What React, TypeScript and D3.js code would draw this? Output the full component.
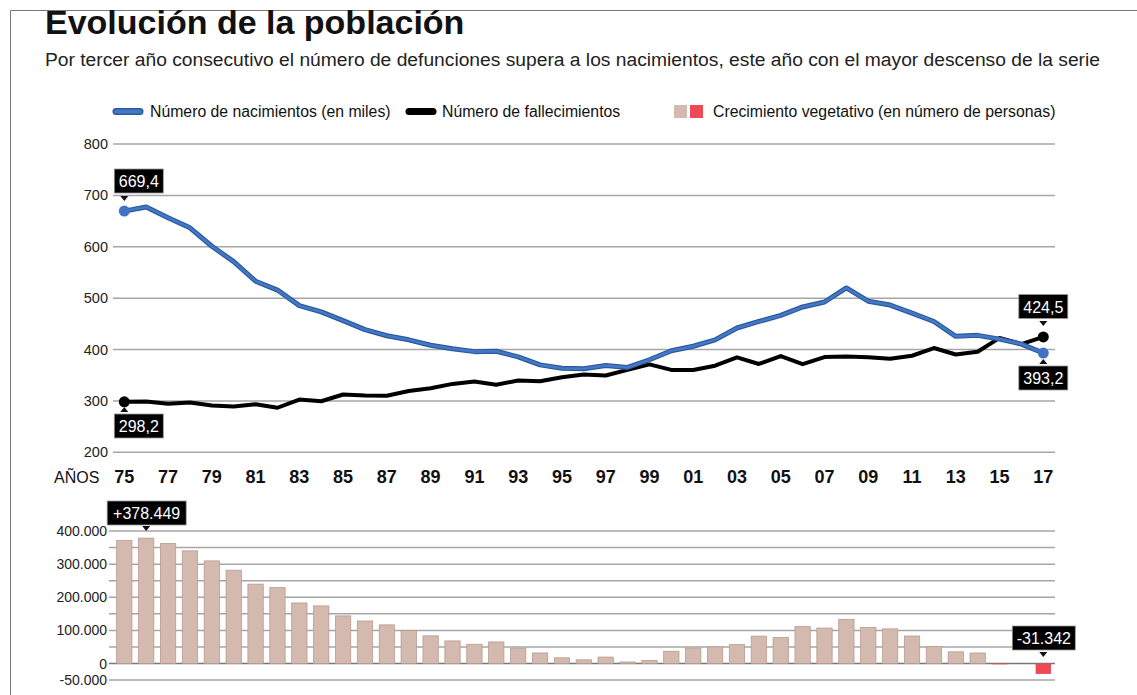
import * as d3 from "d3";

const years = d3.range(1975, 2018);

// Número de nacimientos (en miles)
const births = [
  669.4, 677.5, 656.4, 636.9, 601.0, 571.0, 533.0, 515.7, 485.4, 473.3,
  456.3, 438.8, 426.8, 418.9, 408.4, 401.4, 395.9, 396.7, 385.8, 370.1,
  363.5, 362.6, 369.0, 365.2, 380.1, 397.6, 406.4, 418.8, 441.9, 454.6,
  466.4, 482.9, 492.5, 519.8, 494.0, 486.6, 471.0, 454.6, 425.7, 427.6,
  420.3, 410.6, 393.2,
];

// Número de fallecimientos (en miles)
const deaths = [
  298.2, 299.0, 294.3, 296.8, 291.2, 289.3, 293.4, 286.7, 302.6, 299.4,
  312.5, 310.4, 310.1, 319.4, 324.8, 333.1, 337.7, 331.5, 339.7, 338.2,
  346.2, 351.4, 349.5, 360.5, 371.1, 360.4, 360.1, 368.6, 384.8, 371.9,
  387.4, 371.5, 385.4, 386.3, 384.9, 382.0, 387.9, 402.9, 390.4, 395.8,
  422.6, 410.6, 424.5,
];

// Crecimiento vegetativo (personas)
const growth = [
  371200, 378449, 362100, 340100, 309800, 281700, 239600, 229000, 182800, 173900,
  143800, 128400, 116700, 99500, 83600, 68300, 58200, 65200, 46100, 31900,
  17300, 11200, 19500, 4700, 9000, 37200, 46300, 50200, 57100, 82700,
  79000, 111400, 107100, 133500, 109100, 104600, 83100, 51700, 35300, 31800,
  -2300, -100, -31342,
];

const topTicks = [200, 300, 400, 500, 600, 700, 800];
const bottomGrid = d3.range(-50000, 400001, 50000);
const bottomLabels = [400000, 300000, 200000, 100000, 0, -50000];
const xLabelYears = years.filter((y) => (y - 1975) % 2 === 0);

const SANS = "'Liberation Sans', Arial, sans-serif";
const NARROW = "'Liberation Sans Narrow', 'Liberation Sans', Arial, sans-serif";

const fmtThousands = (v: number) =>
  d3.format(",")(v).replace(/,/g, ".").replace("−", "-");
const fmtDec = (v: number) => v.toFixed(1).replace(".", ",");

function Callout({ x, y, w, label }: { x: number; y: number; w: number; label: string }) {
  return (
    <g>
      <rect x={x} y={y} width={w} height={24} fill="#000" stroke="#999" strokeWidth={0.8} />
      <text x={x + w / 2} y={y + 18} textAnchor="middle" fill="#fff" fontSize={16} fontFamily={SANS}>
        {label}
      </text>
    </g>
  );
}

function Tri({ x, y, dir }: { x: number; y: number; dir: "down" | "up" }) {
  const p = dir === "down" ? `${x - 4},${y - 3} ${x + 4},${y - 3} ${x},${y + 2}` : `${x - 4},${y + 3} ${x + 4},${y + 3} ${x},${y - 2}`;
  return <polygon points={p} fill="#111" />;
}

export default function App() {
  const W = 1137;
  const H = 695;

  // top chart scales
  const x = d3.scaleLinear().domain([1975, 2017]).range([124.3, 1043.3]);
  const y = d3.scaleLinear().domain([200, 800]).range([452.3, 144]);
  const gridX0 = 113;
  const gridX1 = 1055;

  const line = d3
    .line<number>()
    .x((_, i) => x(years[i]))
    .y((d) => y(d));

  // bottom chart scales
  const step = x(1976) - x(1975);
  const xb = d3
    .scaleBand<number>()
    .domain(years)
    .range([x(1975) - step / 2, x(2017) + step / 2])
    .paddingInner(0.3)
    .paddingOuter(0.15);
  const yb = d3.scaleLinear().domain([-50000, 400000]).range([680.1, 531]);

  const last = years.length - 1;
  const bx = (yr: number) => (xb(yr) ?? 0) + xb.bandwidth() / 2;

  return (
    <svg width={W} height={H} style={{ position: "absolute", left: 0, top: 0, background: "#fff" }}>
      {/* frame */}
      <line x1={10.5} y1={10.5} x2={W} y2={10.5} stroke="#777" strokeWidth={1} />
      <line x1={10.5} y1={10.5} x2={10.5} y2={H} stroke="#777" strokeWidth={1} />

      {/* title */}
      <text x={45} y={34} fontSize={34} fontWeight="bold" fontFamily={SANS} fill="#111">
        Evolución de la población
      </text>
      <text x={45} y={66} fontSize={18} fontFamily={SANS} fill="#222" textLength={1055} lengthAdjust="spacingAndGlyphs">
        Por tercer año consecutivo el número de defunciones supera a los nacimientos, este año con el mayor descenso de la serie
      </text>

      {/* legend */}
      <line x1={116} y1={111.5} x2={140} y2={111.5} stroke="#2b5a9c" strokeWidth={7} strokeLinecap="round" />
      <line x1={116} y1={111.5} x2={140} y2={111.5} stroke="#4478c6" strokeWidth={4} strokeLinecap="round" />
      <text x={150} y={117} fontSize={15.8} fontFamily={SANS} fill="#111">
        Número de nacimientos (en miles)
      </text>
      <line x1={409} y1={111.5} x2={433} y2={111.5} stroke="#000" strokeWidth={7} strokeLinecap="round" />
      <text x={442} y={117} fontSize={15.8} fontFamily={SANS} fill="#111">
        Número de fallecimientos
      </text>
      <rect x={674} y={105} width={13} height={13} fill="#d4b9af" />
      <rect x={690} y={105} width={13} height={13} fill="#ee4a55" />
      <text x={713} y={117} fontSize={15.8} fontFamily={SANS} fill="#111">
        Crecimiento vegetativo (en número de personas)
      </text>

      {/* top chart grid */}
      {topTicks.map((t) => (
        <g key={t}>
          <line x1={gridX0} x2={gridX1} y1={y(t)} y2={y(t)} stroke="#a6a6a6" strokeWidth={1.5} />
          <text x={108} y={y(t) + 5} textAnchor="end" fontSize={14.5} fontFamily={SANS} fill="#222">
            {t}
          </text>
        </g>
      ))}

      {/* x labels */}
      <text x={54} y={483} fontSize={16} fontFamily={NARROW} fill="#111">
        AÑOS
      </text>
      {xLabelYears.map((yr) => (
        <text key={yr} x={x(yr)} y={483} textAnchor="middle" fontSize={18} fontWeight="bold" fontFamily={NARROW} fill="#111">
          {String(yr).slice(2)}
        </text>
      ))}

      {/* lines */}
      <path d={line(deaths) ?? ""} fill="none" stroke="#000" strokeWidth={4} strokeLinejoin="round" />
      <path d={line(births) ?? ""} fill="none" stroke="#2b5a9c" strokeWidth={5} strokeLinejoin="round" />
      <path d={line(births) ?? ""} fill="none" stroke="#4478c6" strokeWidth={2.6} strokeLinejoin="round" />

      <circle cx={x(1975)} cy={y(births[0])} r={5.5} fill="#3f74c2" />
      <circle cx={x(1975)} cy={y(deaths[0])} r={5.5} fill="#000" />
      <circle cx={x(2017)} cy={y(births[last])} r={5.5} fill="#3f74c2" />
      <circle cx={x(2017)} cy={y(deaths[last])} r={5.5} fill="#000" />

      {/* top callouts */}
      <Callout x={x(1975) - 10} y={169} w={49} label={fmtDec(births[0])} />
      <Tri x={x(1975)} y={199} dir="down" />
      <Callout x={x(1975) - 10} y={414} w={49} label={fmtDec(deaths[0])} />
      <Tri x={x(1975)} y={409} dir="up" />
      <Callout x={x(2017) - 24.5} y={294.5} w={49} label={fmtDec(deaths[last])} />
      <Tri x={x(2017)} y={324} dir="down" />
      <Callout x={x(2017) - 24.5} y={366} w={49} label={fmtDec(births[last])} />
      <Tri x={x(2017)} y={361} dir="up" />

      {/* bottom chart grid */}
      {bottomGrid.map((t) => (
        <line key={t} x1={gridX0 - 4} x2={gridX1} y1={yb(t)} y2={yb(t)} stroke={t === 0 ? "#777" : "#a6a6a6"} strokeWidth={1.5} />
      ))}
      {bottomLabels.map((t) => (
        <text key={t} x={107} y={yb(t) + 5} textAnchor="end" fontSize={14} fontFamily={SANS} fill="#222">
          {fmtThousands(t)}
        </text>
      ))}

      {/* bars */}
      {growth.map((v, i) => {
        const yr = years[i];
        const top = yb(Math.max(0, v));
        const h = Math.abs(yb(v) - yb(0));
        return (
          <rect
            key={yr}
            x={xb(yr)}
            y={top}
            width={xb.bandwidth()}
            height={h}
            fill={v < 0 ? "#ee4a55" : "#d4b9af"}
            stroke={v < 0 ? "none" : "#b99b90"}
            strokeWidth={0.8}
          />
        );
      })}

      {/* bottom callouts */}
      <Callout x={bx(1976) - 39} y={501} w={79} label={"+" + fmtThousands(growth[1])} />
      <Tri x={bx(1976)} y={529} dir="down" />
      <Callout x={bx(2017) - 31} y={626} w={63} label={fmtThousands(growth[last])} />
      <Tri x={bx(2017)} y={655} dir="down" />
    </svg>
  );
}
